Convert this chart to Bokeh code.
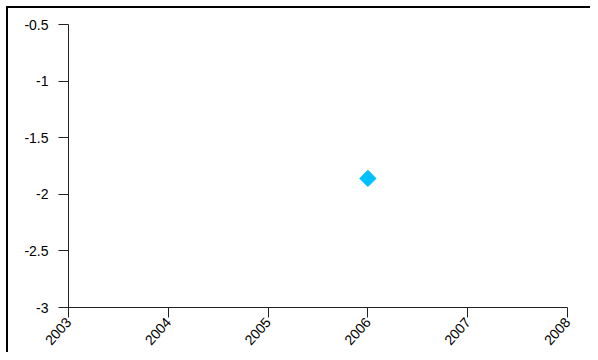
import math
from bokeh.plotting import figure
from bokeh.models import FixedTicker, Range1d, ColumnDataSource
from bokeh.embed import file_html
from bokeh.resources import INLINE

years = [2006]
values = [-1.86]
x_ticks = [2003, 2004, 2005, 2006, 2007, 2008]
x_tick_labels = ["2003", "2004", "2005", "2006", "2007", "2008"]
y_ticks = [-3, -2.5, -2, -1.5, -1, -0.5]
y_tick_labels = ["-3", "-2.5", "-2", "-1.5", "-1", "-0.5"]

p = figure(width=590, height=352, output_backend="svg", toolbar_location=None,
           x_range=Range1d(x_ticks[0], x_ticks[-1]), y_range=Range1d(y_ticks[0], y_ticks[-1]),
           min_border_left=68, min_border_right=23, min_border_top=24, min_border_bottom=45)
p.border_fill_color = None
p.background_fill_color = "white"
p.styles = {"box-shadow": "inset 6px 6px 0 0 white, inset 8px 8px 0 0 black",
            "background-color": "white"}
p.outline_line_color = None
p.xgrid.visible = False
p.ygrid.visible = False

src = ColumnDataSource(dict(x=years, y=values))
p.scatter("x", "y", source=src, marker="square", size=11.5, angle=math.pi / 4,
          fill_color="#00C0FF", line_color="#00C0FF")

for ax in (p.xaxis[0], p.yaxis[0]):
    ax.axis_line_color = "#222222"
    ax.major_tick_line_color = "#222222"
    ax.major_tick_out = 10
    ax.major_tick_in = 0
    ax.minor_tick_line_color = None
    ax.major_label_text_font = "Liberation Sans"
    ax.major_label_text_font_size = "14px"
    ax.major_label_text_color = "black"

p.xaxis[0].ticker = FixedTicker(ticks=x_ticks)
p.xaxis[0].major_label_overrides = {t: l for t, l in zip(x_ticks, x_tick_labels)}
p.xaxis[0].major_label_orientation = 0.84
p.xaxis[0].major_label_standoff = 2
p.yaxis[0].ticker = FixedTicker(ticks=y_ticks)
p.yaxis[0].major_label_overrides = {t: l for t, l in zip(y_ticks, y_tick_labels)}
p.yaxis[0].major_label_standoff = 10

open("out.html", "w").write(file_html(p, INLINE))
